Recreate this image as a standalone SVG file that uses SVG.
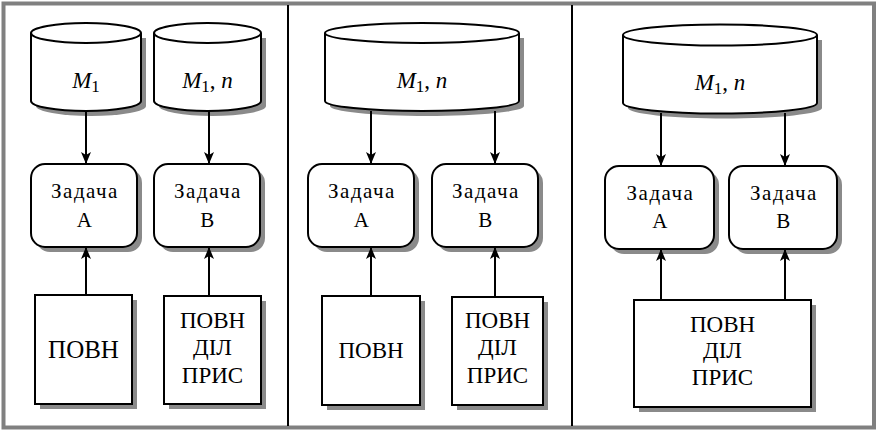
<svg xmlns="http://www.w3.org/2000/svg" width="880" height="432" viewBox="0 0 880 432">
<style>
.shape{fill:#fff;stroke:#000;stroke-width:2}
.shadow{fill:#8a8a8a;stroke:none}
text{font-family:'Liberation Serif','Times New Roman',serif;fill:#000;text-anchor:middle}
.task{font-size:21px;letter-spacing:1.5px}
.big{font-size:23px}
.big25{font-size:25px}
.m{font-size:23px}
.i{font-style:italic}
.conn line{stroke:#000;stroke-width:2;marker-end:url(#ah)}
</style>
<defs>
<marker id="ah" viewBox="0 0 12 10" refX="12" refY="5" markerWidth="12" markerHeight="10" markerUnits="userSpaceOnUse" orient="auto">
<path d="M0,0 L12,5 L0,10 L3,5 Z" fill="#000"/>
</marker>
</defs>
<rect width="880" height="432" fill="#fff"/>
<rect x="3.5" y="3.5" width="870.5" height="424" fill="none" stroke="#808080" stroke-width="4"/>
<line x1="288" y1="5" x2="288" y2="426" stroke="#000" stroke-width="2"/>
<line x1="572" y1="5" x2="572" y2="426" stroke="#000" stroke-width="2"/>

<!-- Panel 1 -->
<g id="p1-db1">
<path class="shadow" d="M36,38 L36,106 A55,10 0 0 0 146,106 L146,38 Z"/>
<path class="shape" d="M31,33 L31,101 A55,10 0 0 0 141,101 L141,33 A55,10 0 0 0 31,33 Z"/>
<path class="shape" d="M31,33 A55,10 0 0 0 141,33"/>
<text class="m" x="86" y="88"><tspan class="i">M</tspan><tspan font-size="17" dy="4">1</tspan></text>
</g>
<g id="p1-db2">
<path class="shadow" d="M159,38 L159,106 A53.5,10 0 0 0 266,106 L266,38 Z"/>
<path class="shape" d="M154,33 L154,101 A53.5,10 0 0 0 261,101 L261,33 A53.5,10 0 0 0 154,33 Z"/>
<path class="shape" d="M154,33 A53.5,10 0 0 0 261,33"/>
<text class="m" x="207.5" y="88"><tspan class="i">M</tspan><tspan font-size="17" dy="4">1</tspan><tspan dy="-4">, </tspan><tspan class="i">n</tspan></text>
</g>
<g id="p1-taskA">
<rect class="shadow" x="36" y="169" width="106" height="83" rx="14"/>
<rect class="shape" x="31" y="164" width="106" height="83" rx="14"/>
<text class="task" x="85" y="198">Задача</text>
<text class="task" x="85" y="227">A</text>
</g>
<g id="p1-taskB">
<rect class="shadow" x="159" y="169" width="106" height="83" rx="14"/>
<rect class="shape" x="154" y="164" width="106" height="83" rx="14"/>
<text class="task" x="208" y="198">Задача</text>
<text class="task" x="208" y="227">B</text>
</g>
<g id="p1-box1">
<rect class="shadow" x="40" y="300" width="97" height="109"/>
<rect class="shape" x="35" y="295" width="97" height="109"/>
<text class="big25" x="83.5" y="358">ПОВН</text>
</g>
<g id="p1-box2">
<rect class="shadow" x="169" y="301" width="97" height="108"/>
<rect class="shape" x="164" y="296" width="97" height="108"/>
<text class="big" x="212.5" y="328">ПОВН</text>
<text class="big" x="212.5" y="355">ДІЛ</text>
<text class="big" x="212.5" y="383">ПРИС</text>
</g>

<!-- Panel 2 -->
<g id="p2-db">
<path class="shadow" d="M330,38 L330,106 A97,10 0 0 0 524,106 L524,38 Z"/>
<path class="shape" d="M325,33 L325,101 A97,10 0 0 0 519,101 L519,33 A97,10 0 0 0 325,33 Z"/>
<path class="shape" d="M325,33 A97,10 0 0 0 519,33"/>
<text class="m" x="422" y="88"><tspan class="i">M</tspan><tspan font-size="17" dy="4">1</tspan><tspan dy="-4">, </tspan><tspan class="i">n</tspan></text>
</g>
<g id="p2-taskA">
<rect class="shadow" x="313" y="169" width="106" height="83" rx="14"/>
<rect class="shape" x="308" y="164" width="106" height="83" rx="14"/>
<text class="task" x="362" y="198">Задача</text>
<text class="task" x="362" y="227">A</text>
</g>
<g id="p2-taskB">
<rect class="shadow" x="437" y="169" width="106" height="83" rx="14"/>
<rect class="shape" x="432" y="164" width="106" height="83" rx="14"/>
<text class="task" x="486" y="198">Задача</text>
<text class="task" x="486" y="227">B</text>
</g>
<g id="p2-box1">
<rect class="shadow" x="327" y="301" width="98" height="109"/>
<rect class="shape" x="322" y="296" width="98" height="109"/>
<text class="big" x="371" y="358">ПОВН</text>
</g>
<g id="p2-box2">
<rect class="shadow" x="457" y="302" width="91" height="108"/>
<rect class="shape" x="452" y="297" width="91" height="108"/>
<text class="big" x="497.5" y="328">ПОВН</text>
<text class="big" x="497.5" y="355">ДІЛ</text>
<text class="big" x="497.5" y="383">ПРИС</text>
</g>

<!-- Panel 3 -->
<g id="p3-db">
<path class="shadow" d="M628,40 L628,108 A97,10.5 0 0 0 822,108 L822,40 Z"/>
<path class="shape" d="M623,35 L623,103 A97,10.5 0 0 0 817,103 L817,35 A97,10.5 0 0 0 623,35 Z"/>
<path class="shape" d="M623,35 A97,10.5 0 0 0 817,35"/>
<text class="m" x="720" y="90"><tspan class="i">M</tspan><tspan font-size="17" dy="4">1</tspan><tspan dy="-4">, </tspan><tspan class="i">n</tspan></text>
</g>
<g id="p3-taskA">
<rect class="shadow" x="610" y="171" width="109" height="83" rx="14"/>
<rect class="shape" x="605" y="166" width="109" height="83" rx="14"/>
<text class="task" x="660.5" y="200">Задача</text>
<text class="task" x="660.5" y="228">A</text>
</g>
<g id="p3-taskB">
<rect class="shadow" x="734" y="171" width="108" height="83" rx="14"/>
<rect class="shape" x="729" y="166" width="108" height="83" rx="14"/>
<text class="task" x="784" y="200">Задача</text>
<text class="task" x="784" y="228">B</text>
</g>
<g id="p3-box">
<rect class="shadow" x="639" y="305" width="177" height="107"/>
<rect class="shape" x="634" y="300" width="177" height="107"/>
<text class="big" x="722.5" y="332">ПОВН</text>
<text class="big" x="722.5" y="358">ДІЛ</text>
<text class="big" x="722.5" y="385">ПРИС</text>
</g>

<g id="connectors" class="conn">
<line x1="86" y1="111" x2="86" y2="164"/>
<line x1="209" y1="111" x2="209" y2="164"/>
<line x1="86" y1="295" x2="86" y2="247"/>
<line x1="209" y1="296" x2="209" y2="247"/>
<line x1="371" y1="111" x2="371" y2="164"/>
<line x1="495" y1="111" x2="495" y2="164"/>
<line x1="371" y1="296" x2="371" y2="247"/>
<line x1="495" y1="297" x2="495" y2="247"/>
<line x1="661" y1="113" x2="661" y2="166"/>
<line x1="785" y1="113" x2="785" y2="166"/>
<line x1="661" y1="300" x2="661" y2="249"/>
<line x1="785" y1="300" x2="785" y2="249"/>
</g>
</svg>
